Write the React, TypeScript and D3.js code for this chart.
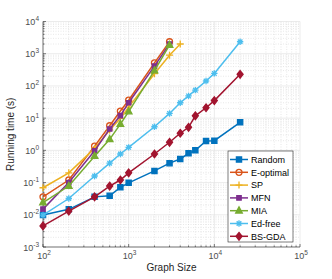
import React, { useEffect, useRef } from 'react';
import * as d3 from 'd3';

// graph sizes
const sizesLong = [100, 200, 400, 600, 800, 1000, 2000, 3000, 4000, 5000, 6000, 8000, 10000, 20000];
const sizesShort = [100, 200, 400, 600, 800, 1000, 2000, 3000];
const sizesSP = [100, 200, 400, 600, 800, 1000, 2000, 3000, 4000];

// running times (s)
const randomTime = [0.0098, 0.0148, 0.036, 0.039, 0.071, 0.098, 0.23, 0.4, 0.54, 0.81, 1.0, 1.95, 2.0, 7.4];
const eOptimalTime = [0.036, 0.12, 1.35, 5.8, 16.6, 36, 520, 2350];
const spTime = [0.069, 0.2, 1.15, 4.3, 9.8, 22, 240, 900, 2000];
const mfnTime = [0.015, 0.1, 0.97, 4.6, 12, 30, 410, 2000];
const miaTime = [0.024, 0.078, 0.66, 2.2, 6.5, 16, 300, 1850];
const edFreeTime = [0.0098, 0.032, 0.16, 0.4, 0.77, 1.24, 5.4, 14, 30, 49, 74, 142, 245, 2350];
const bsGdaTime = [0.0045, 0.013, 0.036, 0.078, 0.12, 0.2, 0.77, 1.78, 3.4, 5.2, 11.8, 21, 35, 229];

const names = ['Random', 'E-optimal', 'SP', 'MFN', 'MIA', 'Ed-free', 'BS-GDA'];
const colors = ['#0072BD', '#D95319', '#EDB120', '#7E2F8E', '#77AC30', '#4DBEEE', '#A2142F'];
const markers = ['square', 'circle', 'plus', 'smallsquare', 'triangle', 'star', 'diamond'];

const xTickExps = [2, 3, 4, 5];
const yTickExps = [-3, -2, -1, 0, 1, 2, 3, 4];

const markerPath = (kind: string) => {
  switch (kind) {
    case 'square':
      return 'M-2.6,-2.6h5.2v5.2h-5.2Z';
    case 'smallsquare':
      return 'M-2.2,-2.2h4.4v4.4h-4.4Z';
    case 'circle':
      return 'M3,0A3,3 0 1,1 -3,0A3,3 0 1,1 3,0Z';
    case 'plus':
      return 'M-3.5,0H3.5M0,-3.5V3.5';
    case 'triangle':
      return 'M0,-3.8L3.3,2.3L-3.3,2.3Z';
    case 'star':
      return 'M-3.2,0H3.2M0,-3.2V3.2M-2.3,-2.3L2.3,2.3M-2.3,2.3L2.3,-2.3';
    case 'diamond':
      return 'M0,-3.8L3,0L0,3.8L-3,0Z';
    default:
      return '';
  }
};
const filled = (kind: string) => ['square', 'smallsquare', 'triangle', 'diamond'].includes(kind);

const App = () => {
  const svgRef = useRef<SVGSVGElement>(null);

  useEffect(() => {
    const width = 332;
    const height = 279;
    const left = 43;
    const right = 300;
    const top = 21.5;
    const bottom = 247;
    const font = 'Liberation Sans, Arial, Helvetica, sans-serif';

    const svg = d3.select(svgRef.current).attr('width', width).attr('height', height);
    svg.selectAll('*').remove();

    const xScale = d3.scaleLog().domain([1e2, 1e5]).range([left, right]);
    const yScale = d3.scaleLog().domain([1e-3, 1e4]).range([bottom, top]);

    svg.append('rect').attr('x', left).attr('y', top).attr('width', right - left).attr('height', bottom - top).attr('fill', '#fff');

    // minor grid
    const xMinor: number[] = [];
    for (let e = 2; e < 5; e++) for (let m = 2; m < 10; m++) xMinor.push(m * 10 ** e);
    const yMinor: number[] = [];
    for (let e = -3; e < 4; e++) for (let m = 2; m < 10; m++) yMinor.push(m * 10 ** e);

    const grid = svg.append('g');
    grid.selectAll('.xmin').data(xMinor).join('line')
      .attr('x1', (d) => xScale(d)).attr('x2', (d) => xScale(d))
      .attr('y1', top).attr('y2', bottom)
      .attr('stroke', '#d8d8d8').attr('stroke-width', 0.6).attr('stroke-dasharray', '1,1.5');
    grid.selectAll('.ymin').data(yMinor).join('line')
      .attr('y1', (d) => yScale(d)).attr('y2', (d) => yScale(d))
      .attr('x1', left).attr('x2', right)
      .attr('stroke', '#d8d8d8').attr('stroke-width', 0.6).attr('stroke-dasharray', '1,1.5');
    grid.selectAll('.xmaj').data(xTickExps).join('line')
      .attr('x1', (d) => xScale(10 ** d)).attr('x2', (d) => xScale(10 ** d))
      .attr('y1', top).attr('y2', bottom)
      .attr('stroke', '#e3e3e3').attr('stroke-width', 0.7);
    grid.selectAll('.ymaj').data(yTickExps).join('line')
      .attr('y1', (d) => yScale(10 ** d)).attr('y2', (d) => yScale(10 ** d))
      .attr('x1', left).attr('x2', right)
      .attr('stroke', '#e3e3e3').attr('stroke-width', 0.7);

    // axes lines and ticks (inward)
    const ax = svg.append('g').attr('stroke', '#262626').attr('stroke-width', 0.6);
    ax.append('line').attr('x1', left).attr('x2', left).attr('y1', top).attr('y2', bottom);
    ax.append('line').attr('x1', left).attr('x2', right).attr('y1', bottom).attr('y2', bottom);
    ax.selectAll('.xt').data(xTickExps).join('line')
      .attr('x1', (d) => xScale(10 ** d)).attr('x2', (d) => xScale(10 ** d))
      .attr('y1', bottom).attr('y2', bottom - 3);
    ax.selectAll('.xmt').data(xMinor).join('line')
      .attr('x1', (d) => xScale(d)).attr('x2', (d) => xScale(d))
      .attr('y1', bottom).attr('y2', bottom - 1.6);
    ax.selectAll('.yt').data(yTickExps).join('line')
      .attr('y1', (d) => yScale(10 ** d)).attr('y2', (d) => yScale(10 ** d))
      .attr('x1', left).attr('x2', left + 3);
    ax.selectAll('.ymt').data(yMinor).join('line')
      .attr('y1', (d) => yScale(d)).attr('y2', (d) => yScale(d))
      .attr('x1', left).attr('x2', left + 1.6);

    // tick labels
    const yl = svg.append('g').attr('font-family', font).attr('fill', '#4d4d4d');
    yTickExps.forEach((e) => {
      const t = yl.append('text').attr('x', left - 4).attr('y', yScale(10 ** e) + 3.5).attr('text-anchor', 'end').attr('font-size', 9);
      t.append('tspan').text('10');
      t.append('tspan').attr('dy', -4).attr('font-size', 6.5).text(String(e));
    });
    xTickExps.forEach((e) => {
      const t = yl.append('text').attr('x', xScale(10 ** e) + 1).attr('y', bottom + 12).attr('text-anchor', 'middle').attr('font-size', 9);
      t.append('tspan').text('10');
      t.append('tspan').attr('dy', -4).attr('font-size', 6.5).text(String(e));
    });

    svg.append('text').attr('x', (left + right) / 2).attr('y', bottom + 24)
      .attr('text-anchor', 'middle').attr('font-family', font).attr('font-size', 10).attr('fill', '#262626')
      .text('Graph Size');
    svg.append('text').attr('transform', `translate(14,${(top + bottom) / 2}) rotate(-90)`)
      .attr('text-anchor', 'middle').attr('font-family', font).attr('font-size', 10).attr('fill', '#262626')
      .text('Running time (s)');

    // series
    const allX = [sizesLong, sizesShort, sizesSP, sizesShort, sizesShort, sizesLong, sizesLong];
    const allY = [randomTime, eOptimalTime, spTime, mfnTime, miaTime, edFreeTime, bsGdaTime];
    const line = d3.line<[number, number]>().x((d) => xScale(d[0])).y((d) => yScale(d[1]));

    names.forEach((name, i) => {
      const pts: [number, number][] = allX[i].map((x, j) => [x, allY[i][j]]);
      const g = svg.append('g');
      g.append('path').attr('d', line(pts)).attr('fill', 'none').attr('stroke', colors[i]).attr('stroke-width', 1.5);
      g.selectAll('.m').data(pts).join('path')
        .attr('transform', (d) => `translate(${xScale(d[0])},${yScale(d[1])})`)
        .attr('d', markerPath(markers[i]))
        .attr('fill', filled(markers[i]) ? colors[i] : 'none')
        .attr('stroke', colors[i]).attr('stroke-width', 1.3);
    });

    // legend
    const lx = 228;
    const ly = 151;
    const lw = 65;
    const lh = 91;
    const lg = svg.append('g');
    lg.append('rect').attr('x', lx).attr('y', ly).attr('width', lw).attr('height', lh)
      .attr('fill', '#fff').attr('stroke', '#262626').attr('stroke-width', 0.6);
    names.forEach((name, i) => {
      const cy = ly + 8.5 + i * 12.8;
      lg.append('line').attr('x1', lx + 2).attr('x2', lx + 20).attr('y1', cy).attr('y2', cy)
        .attr('stroke', colors[i]).attr('stroke-width', 1.5);
      lg.append('path').attr('transform', `translate(${lx + 11},${cy})`).attr('d', markerPath(markers[i]))
        .attr('fill', filled(markers[i]) ? colors[i] : 'none')
        .attr('stroke', colors[i]).attr('stroke-width', 1.3);
      lg.append('text').attr('x', lx + 23).attr('y', cy + 3.3).attr('font-family', font).attr('font-size', 9)
        .attr('fill', '#000').text(name);
    });
  }, []);

  return (
    <div>
      <svg ref={svgRef} style={{ position: 'absolute', left: 0, top: 0 }}></svg>
    </div>
  );
};

export default App;
